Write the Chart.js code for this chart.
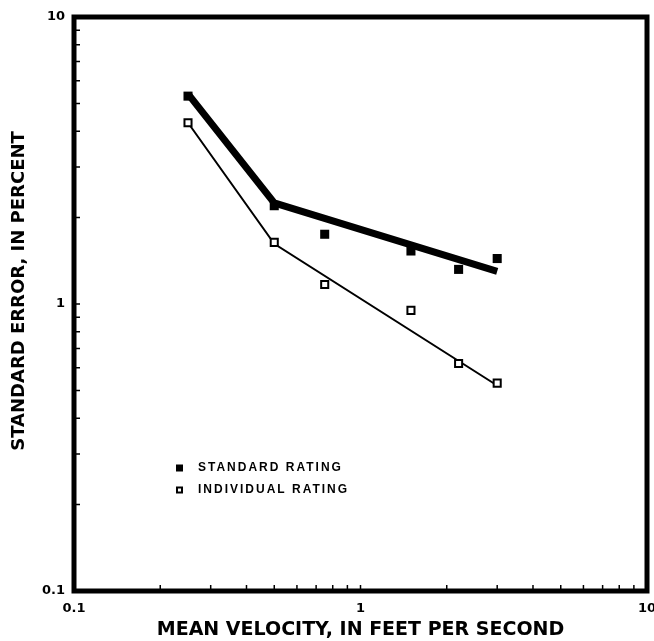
<!DOCTYPE html>
<html>
<head>
<meta charset="utf-8">
<script src="https://cdn.jsdelivr.net/npm/chart.js@4"></script>
<style>
  html, body { margin: 0; padding: 0; background: #fff; }
  canvas { display: block; }
</style>
</head>
<body>
<canvas id="chart" width="654" height="641"></canvas>
<script>
// values (log-log)
const velocity = [0.25, 0.5, 0.75, 1.5, 2.2, 3.0];
const standardRating = [5.3, 2.2, 1.75, 1.53, 1.32, 1.44];
const individualRating = [4.28, 1.64, 1.17, 0.95, 0.62, 0.53];

// fitted curves (broken lines)
const fitVelocity = [0.25, 0.5, 3.0];
const standardFit = [5.4, 2.25, 1.3];
const individualFit = [4.28, 1.62, 0.52];

// axis ticks
const axisTickValues = [0.1, 0.2, 0.3, 0.4, 0.5, 0.6, 0.7, 0.8, 0.9, 1, 2, 3, 4, 5, 6, 7, 8, 9, 10];
const axisLabelValues = [0.1, 1, 10];

const yTitle = 'STANDARD ERROR, IN PERCENT';
const xTitle = 'MEAN VELOCITY, IN FEET PER SECOND';

const FONT = "'DejaVu Sans', sans-serif";
const LEGEND_FONT = "'Liberation Sans', Arial, sans-serif";

function toPoints(xs, ys) {
    return xs.map((x, i) => ({ x: x, y: ys[i] }));
}

// frame + inward tick marks + y title
const framePlugin = {
    id: 'frame',
    afterDraw(chart) {
        const { ctx, chartArea, scales } = chart;
        ctx.save();
        ctx.strokeStyle = '#000';
        ctx.lineWidth = 1.5;
        ctx.beginPath();
        axisTickValues.forEach(v => {
            const px = scales.x.getPixelForValue(v);
            ctx.moveTo(px, chartArea.bottom);
            ctx.lineTo(px, chartArea.bottom - 6);
            const py = scales.y.getPixelForValue(v);
            ctx.moveTo(chartArea.left, py);
            ctx.lineTo(chartArea.left + 6, py);
        });
        ctx.stroke();
        ctx.lineWidth = 5;
        ctx.strokeRect(chartArea.left, chartArea.top,
            chartArea.right - chartArea.left, chartArea.bottom - chartArea.top);

        // y axis title, sits a bit above the middle in the original
        ctx.translate(19, (chartArea.top + chartArea.bottom) / 2 - 13);
        ctx.rotate(-Math.PI / 2);
        ctx.font = 'bold 18px ' + FONT;
        ctx.fillStyle = '#000';
        ctx.textAlign = 'center';
        ctx.textBaseline = 'middle';
        ctx.fillText(yTitle, 0, 0);
        ctx.restore();
    }
};

// legend drawn inside the plot
const legendPlugin = {
    id: 'innerLegend',
    afterDraw(chart) {
        const { ctx, chartArea } = chart;
        const x = chartArea.left + 102;
        const y0 = chartArea.top + 451;
        ctx.save();
        ctx.font = 'bold 12px ' + LEGEND_FONT;
        ctx.letterSpacing = '2px';
        ctx.textBaseline = 'middle';
        ctx.fillStyle = '#000';
        [0, 1].forEach(i => {
            const ds = chart.data.datasets[i];
            const y = y0 + i * 22;
            if (i === 0) {
                ctx.fillRect(x, y - 3.5, 7, 7);
            } else {
                ctx.lineWidth = 2;
                ctx.strokeRect(x + 1, y - 2.5, 5, 5);
            }
            ctx.fillText(ds.label, x + 22, y);
        });
        ctx.restore();
    }
};

const ctx = document.getElementById('chart').getContext('2d');
const chart = new Chart(ctx, {
    type: 'scatter',
    data: {
        datasets: [
            {
                label: 'STANDARD RATING',
                data: toPoints(velocity, standardRating),
                pointStyle: 'rect',
                pointRadius: 6.4,
                backgroundColor: '#000',
                borderColor: '#000',
                borderWidth: 0,
                showLine: false
            },
            {
                label: 'INDIVIDUAL RATING',
                data: toPoints(velocity, individualRating),
                pointStyle: 'rect',
                pointRadius: 5,
                backgroundColor: '#fff',
                borderColor: '#000',
                borderWidth: 2,
                showLine: false
            },
            {
                label: 'standard fit',
                data: toPoints(fitVelocity, standardFit),
                showLine: true,
                borderColor: '#000',
                borderWidth: 7,
                borderJoinStyle: 'miter',
                pointRadius: 0,
                tension: 0
            },
            {
                label: 'individual fit',
                data: toPoints(fitVelocity, individualFit),
                showLine: true,
                borderColor: '#000',
                borderWidth: 2,
                pointRadius: 0,
                tension: 0
            }
        ]
    },
    options: {
        responsive: false,
        animation: false,
        events: [],
        layout: { padding: { top: 17, right: 6, left: 0, bottom: 0 } },
        plugins: {
            legend: { display: false },
            tooltip: { enabled: false }
        },
        scales: {
            x: {
                type: 'logarithmic',
                position: 'bottom',
                min: 0.1,
                max: 10,
                afterBuildTicks: scale => { scale.ticks = axisTickValues.map(v => ({ value: v })); },
                afterFit: scale => { scale.height = 50; scale.paddingLeft = 0; scale.paddingRight = 0; },
                grid: { display: false, drawTicks: false },
                border: { display: false },
                ticks: {
                    autoSkip: false,
                    maxRotation: 0,
                    padding: 10,
                    color: '#000',
                    font: { family: FONT, size: 13, weight: 'bold' },
                    callback: v => axisLabelValues.includes(v) ? String(v) : ''
                },
                title: {
                    display: true,
                    text: xTitle,
                    color: '#000',
                    padding: { top: 0, bottom: 0 },
                    font: { family: FONT, size: 19, weight: 'bold' }
                }
            },
            y: {
                type: 'logarithmic',
                position: 'left',
                min: 0.1,
                max: 10,
                afterBuildTicks: scale => { scale.ticks = axisTickValues.map(v => ({ value: v })); },
                afterFit: scale => { scale.width = 74; scale.paddingTop = 0; scale.paddingBottom = 0; },
                grid: { display: false, drawTicks: false },
                border: { display: false },
                ticks: {
                    autoSkip: false,
                    padding: 9,
                    color: '#000',
                    font: { family: FONT, size: 13, weight: 'bold' },
                    callback: v => axisLabelValues.includes(v) ? String(v) : ''
                }
            }
        }
    },
    plugins: [framePlugin, legendPlugin]
});
</script>
</body>
</html>
